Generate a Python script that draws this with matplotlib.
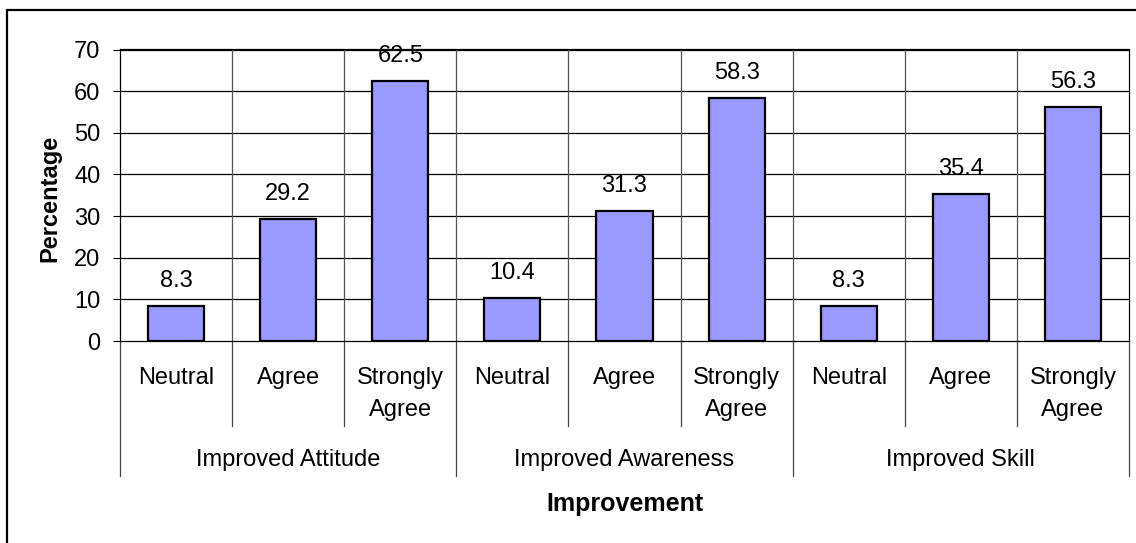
import matplotlib
matplotlib.use("Agg")
import matplotlib.pyplot as plt
from matplotlib.transforms import blended_transform_factory
from matplotlib.patches import Rectangle

groups = ["Improved Attitude", "Improved Awareness", "Improved Skill"]
responses = ["Neutral", "Agree", "Strongly\nAgree"]
attitude = [8.3, 29.2, 62.5]
awareness = [10.4, 31.3, 58.3]
skill = [8.3, 35.4, 56.3]
y_ticks = [0, 10, 20, 30, 40, 50, 60, 70]
x_title = "Improvement"
y_title = "Percentage"

values = attitude + awareness + skill
W, H = 1136, 543
plt.rcParams['font.family'] = ['Liberation Sans', 'DejaVu Sans']
FS = 17

fig = plt.figure(figsize=(W / 100, H / 100), dpi=100)
fig.patch.set_facecolor('white')
# outer chart border (top and left visible)
fig.patches.append(Rectangle((7 / W, -0.1), 1.2, (H - 10) / H + 0.1,
                             transform=fig.transFigure, fill=False,
                             edgecolor='black', linewidth=1.6))

L, R, T, B = 120, 1129, 49.5, 341
ax = fig.add_axes([L / W, (H - B) / H, (R - L) / W, (B - T) / H])

n = len(values)
xs = list(range(n))
ax.bar(xs, values, width=0.5, color='#9999FF', edgecolor='black',
       linewidth=1.6, zorder=3)
ax.set_xlim(-0.5, n - 0.5)
ax.set_ylim(0, 70)
ax.set_yticks(y_ticks)
ax.tick_params(axis='y', length=5, width=0.8, pad=9, labelsize=FS, colors='black')
ax.set_xticks([])

# grid
for yv in y_ticks[1:]:
    ax.axhline(yv, color='black', linewidth=0.9, zorder=1)
for i in range(1, n):
    ax.axvline(i - 0.5, color='#555555', linewidth=0.9, zorder=1)
for s in ax.spines.values():
    s.set_color('black')
    s.set_linewidth(0.9)

# value labels
for x, v in zip(xs, values):
    ax.annotate(f"{v:.1f}", (x, v), xytext=(0, 19), textcoords='offset pixels',
                ha='center', va='baseline', fontsize=FS)

bt = blended_transform_factory(ax.transData, fig.transFigure)
def fy(p):
    return (H - p) / H

# category labels
for i in range(n):
    lab = responses[i % 3].split("\n")
    ax.text(i, fy(384), lab[0], transform=bt, ha='center', va='baseline', fontsize=FS)
    if len(lab) > 1:
        ax.text(i, fy(416), lab[1], transform=bt, ha='center', va='baseline', fontsize=FS)

# separators below axis
for i in range(n + 1):
    xb = i - 0.5
    bottom = 476 if i % 3 == 0 else 426
    ax.plot([xb, xb], [fy(B), fy(bottom)], transform=bt, color='#444444',
            linewidth=0.9, clip_on=False)

# group labels
for g, name in enumerate(groups):
    ax.text(g * 3 + 1, fy(466), name, transform=bt, ha='center', va='baseline', fontsize=FS)

ax.text(4, fy(511), x_title, transform=bt, ha='center', va='baseline',
        fontsize=18, fontweight='bold')
fig.text(50 / W, fy(198), y_title, rotation=90, ha='center', va='center',
         fontsize=17, fontweight='bold')

fig.savefig("out.png", dpi=100)
